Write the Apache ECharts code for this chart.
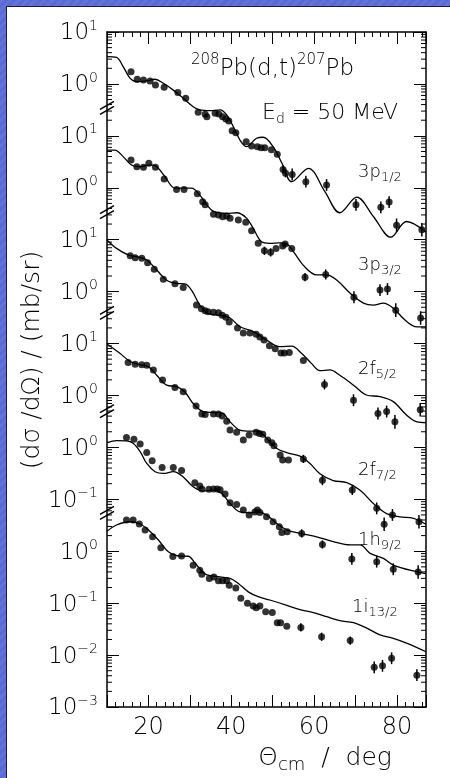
<!DOCTYPE html>
<html>
<head>
<meta charset="utf-8">
<title>208Pb(d,t)207Pb</title>
<script src="https://cdn.jsdelivr.net/npm/echarts@6.0.0/dist/echarts.min.js"></script>
<style>
html, body { margin: 0; padding: 0; }
body {
  width: 450px; height: 778px; overflow: hidden; position: relative;
  background: repeating-linear-gradient(135deg, #6272da 0px, #6272da 3px, #5a6ad4 3px, #5a6ad4 6px);
}
#paper {
  position: absolute; left: 6px; top: 6px; right: 0; bottom: 0; background: #fff;
  border-top: 1px solid #1c1c3c; border-left: 1px solid #1c1c3c;
}
#chart { position: absolute; left: 0; top: 0; width: 450px; height: 778px; }
</style>
</head>
<body>
<div id="paper"></div>
<div id="chart"></div>
<script>
const FONT = 'DejaVu Sans';

// angle axis
const xMin = 10, xMax = 87;
const xLabels = [20, 40, 60, 80];

// each panel is lifted by this many decades so all six sit on one log scale
const panelShift = [9, 7, 5, 3, 2, 0];
const panelNames = [['3p', '1/2'], ['3p', '3/2'], ['2f', '5/2'], ['2f', '7/2'], ['1h', '9/2'], ['1i', '13/2']];
// exponent printed at each decade of the stacked scale, top (10) to bottom (-3)
const yTickExp = [1, 0, 1, 0, 1, 0, 1, 0, 0, -1, 0, -1, -2, -3];
// axis breaks between panels, in stacked decades
const breakAt = [8.54, 6.53, 4.59, 2.70, 0.74];

// DWBA curves: [theta, mb/sr]
const curve3p12 = [[10,3.35],[12.3,3.25],[13.9,2.15],[15.6,1.28],[17.2,1.10],[19.6,1.14],[21.6,1.23],[23.6,1.03],[26.0,0.76],[28.4,0.53],[30.8,0.364],[32.4,0.315],[34.9,0.305],[37.3,0.315],[38.9,0.252],[40.5,0.150],[42.1,0.083],[43.7,0.062],[46.1,0.090],[47.7,0.094],[50.1,0.062],[52.2,0.030],[54.6,0.0131],[58.6,0.0237],[62.6,0.0084],[66.2,0.0033],[70.3,0.0066],[74.3,0.0028],[78.5,0.00112],[82.3,0.00224],[87,0.0014]];
const curve3p32 = [[10,5.33],[11.9,5.33],[13.9,3.98],[15.9,2.75],[18.0,2.55],[20.4,2.75],[22.0,2.55],[24.0,1.63],[26.4,0.98],[28.4,0.98],[30.4,0.98],[32.4,0.72],[34.1,0.47],[35.7,0.35],[38.9,0.32],[41.3,0.33],[43.7,0.26],[45.3,0.165],[47.3,0.091],[49.3,0.085],[51.7,0.087],[53.4,0.083],[55.0,0.059],[57.4,0.032],[60.6,0.021],[63.0,0.021],[65.5,0.0166],[68.7,0.0093],[71.9,0.006],[74.3,0.0055],[76.7,0.006],[79.1,0.0048],[82.0,0.0028],[84.8,0.0021],[87,0.0021]];
const curve2f52 = [[10,9.9],[12.3,6.8],[15.1,5.1],[17.2,4.7],[19.6,4.07],[22.0,2.6],[24.4,1.66],[26.8,1.44],[28.8,1.41],[30.4,1.07],[32.4,0.55],[34.4,0.38],[37.3,0.35],[39.7,0.31],[42.1,0.21],[45.3,0.17],[48.5,0.117],[51.7,0.087],[54.6,0.089],[57.0,0.064],[59.4,0.041],[61.4,0.030],[63.8,0.031],[66.2,0.0245],[69.5,0.0158],[72.6,0.0102],[75.9,0.0095],[79.1,0.0076],[82.3,0.0042],[84.8,0.0031],[87,0.003]];
const curve2f72 = [[10,9.8],[13.1,6.5],[15.6,4.5],[18.0,3.9],[20.0,3.6],[22.0,2.45],[24.4,1.58],[26.8,1.48],[28.8,1.17],[30.8,0.70],[33.2,0.49],[35.7,0.47],[37.7,0.46],[39.7,0.31],[42.1,0.215],[44.5,0.205],[46.5,0.205],[48.5,0.15],[50.9,0.096],[53.4,0.079],[56.6,0.068],[59.0,0.049],[61.4,0.031],[64.6,0.023],[67.9,0.021],[71.1,0.015],[74.3,0.0083],[77.5,0.0053],[80.7,0.0046],[84.0,0.0043],[87,0.0033]];
const curve1h92 = [[10,1.23],[12.3,1.35],[14.7,1.33],[16.3,1.2],[18.0,0.83],[19.6,0.49],[21.6,0.34],[23.6,0.315],[26.0,0.34],[28.4,0.27],[30.8,0.174],[33.2,0.144],[35.7,0.15],[37.7,0.13],[39.7,0.083],[42.1,0.057],[44.5,0.055],[46.5,0.057],[48.5,0.050],[50.9,0.0347],[53.4,0.0257],[56.6,0.022],[60.6,0.019],[64.6,0.0153],[68.7,0.0132],[71.1,0.0132],[73.5,0.0091],[76.7,0.0073],[79.1,0.0054],[84.8,0.0040],[87,0.0037]];
const curve1i132 = [[10,2.42],[12.3,3.2],[15.6,3.7],[18.0,3.35],[20.0,2.57],[22.4,1.65],[24.8,0.98],[27.2,0.81],[29.6,0.80],[31.2,0.6],[32.8,0.42],[34.1,0.35],[37.3,0.32],[39.7,0.30],[41.7,0.24],[44.1,0.165],[46.5,0.133],[49.3,0.115],[53.4,0.091],[56.6,0.075],[59.8,0.066],[63.0,0.055],[66.2,0.046],[69.5,0.042],[72.7,0.033],[75.9,0.0244],[79.1,0.021],[82.3,0.017],[87,0.0116]];

// measured: [theta, mb/sr, relative error (0 = smaller than the dot)]
const data3p12 = [[15.8,1.72,0],[17.3,1.23,0],[18.8,1.19,0],[20.4,1.14,0],[21.7,0.95,0],[23.8,0.86,0],[27.1,0.68,0],[29.0,0.53,0],[32.0,0.284,0],[33.7,0.26,0],[34.1,0.234,0],[36.1,0.272,0],[37.0,0.264,0],[37.9,0.234,0],[38.7,0.211,0],[39.4,0.193,0],[40.2,0.126,0],[41.1,0.115,0],[43.6,0.077,0],[44.9,0.064,0],[46.3,0.062,0],[47.2,0.059,0],[48.1,0.059,0],[49.7,0.054,0],[51.1,0.044,0],[52.5,0.0226,0.2],[53.1,0.019,0.2],[54.7,0.018,0.3],[58.0,0.0131,0.3],[63.0,0.0113,0.3],[70.1,0.0047,0.3],[76.1,0.0042,0.3],[78.1,0.0053,0.3],[79.9,0.0019,0.35],[86.0,0.00155,0.35]];
const data3p32 = [[15.8,3.43,0],[17.2,2.55,0],[18.8,2.48,0],[20.1,2.95,0],[21.7,2.48,0],[23.8,1.48,0],[26.8,0.93,0],[28.6,0.93,0],[31.8,0.77,0],[33.1,0.54,0],[33.7,0.47,0],[35.7,0.31,0],[36.9,0.30,0],[37.9,0.277,0],[38.9,0.285,0],[39.7,0.26,0],[41.7,0.24,0],[43.5,0.216,0],[44.9,0.149,0],[46.5,0.085,0],[48.0,0.061,0.2],[49.5,0.057,0.2],[50.8,0.068,0],[52.4,0.076,0],[53.0,0.083,0],[54.6,0.068,0],[57.8,0.019,0.2],[62.8,0.0214,0.25],[69.6,0.0078,0.3],[75.9,0.0107,0.3],[77.7,0.0112,0.3],[79.7,0.0044,0.35],[85.7,0.0031,0.35]];
const data2f52 = [[15.6,4.9,0],[16.8,4.5,0],[18.4,4.4,0],[19.8,3.6,0],[21.4,2.7,0],[23.6,1.73,0],[26.4,1.41,0],[28.4,1.2,0],[31.6,0.55,0],[32.8,0.47,0],[33.7,0.43,0],[34.4,0.41,0],[35.7,0.40,0],[36.9,0.39,0],[37.8,0.35,0],[38.7,0.32,0],[39.5,0.26,0],[41.5,0.20,0],[42.9,0.16,0],[44.5,0.16,0],[46.0,0.151,0],[46.9,0.134,0],[47.9,0.117,0],[49.2,0.091,0],[50.6,0.079,0],[52.0,0.066,0],[52.8,0.066,0],[54.0,0.067,0],[57.4,0.047,0],[62.5,0.0163,0.25],[69.5,0.0081,0.3],[75.4,0.0045,0.3],[77.5,0.0049,0.3],[79.5,0.0031,0.35],[85.6,0.0053,0.35]];
const data2f72 = [[15.1,4.3,0],[16.8,3.98,0],[18.4,3.9,0],[19.6,3.8,0],[21.2,3.1,0],[23.4,1.98,0],[26.4,1.42,0],[28.4,1.18,0],[31.5,0.63,0],[32.9,0.44,0],[33.7,0.43,0],[35.7,0.44,0],[36.9,0.44,0],[37.8,0.40,0],[38.9,0.32,0],[39.7,0.215,0],[41.3,0.195,0],[42.9,0.138,0],[44.3,0.173,0],[46.0,0.195,0],[46.8,0.186,0],[47.6,0.18,0],[48.8,0.138,0],[49.8,0.123,0],[50.3,0.107,0],[51.8,0.071,0],[52.4,0.057,0],[53.8,0.057,0],[57.4,0.06,0.2],[62.0,0.0234,0.25],[69.2,0.0151,0.25],[75.1,0.0067,0.3],[76.9,0.0033,0.35],[78.9,0.005,0.3],[85.3,0.0037,0.35]];
const data1h92 = [[14.7,1.55,0],[16.5,1.43,0],[18.0,1.16,0],[19.6,0.80,0],[20.9,0.55,0],[23.3,0.41,0],[26.0,0.41,0],[28.0,0.36,0],[31.2,0.208,0],[32.4,0.18,0],[32.9,0.158,0],[34.6,0.157,0],[35.7,0.158,0],[36.6,0.158,0],[37.3,0.152,0],[38.5,0.126,0],[39.7,0.086,0],[41.3,0.079,0],[42.9,0.062,0],[44.3,0.050,0],[45.7,0.057,0],[46.3,0.062,0],[46.9,0.056,0],[48.5,0.046,0],[50.1,0.037,0],[51.6,0.0295,0],[52.2,0.0229,0],[53.5,0.0237,0],[57.0,0.022,0.2],[62.0,0.0135,0.2],[69.1,0.0071,0.3],[75.1,0.0063,0.3],[79.1,0.0045,0.3],[85.1,0.004,0.35]];
const data1i132 = [[14.7,4.0,0],[16.3,4.0,0],[17.8,3.35,0],[19.2,2.57,0],[21.0,1.9,0],[23.0,1.17,0],[25.9,0.79,0],[28.0,0.81,0],[30.8,0.54,0],[32.4,0.43,0],[32.9,0.36,0],[34.7,0.30,0],[35.8,0.32,0],[36.9,0.27,0],[37.9,0.27,0],[38.9,0.27,0],[39.5,0.22,0],[41.1,0.195,0],[42.3,0.124,0],[43.9,0.10,0],[45.3,0.088,0],[46.0,0.082,0],[46.9,0.088,0],[48.3,0.068,0],[49.9,0.066,0],[51.1,0.042,0],[51.9,0.042,0],[53.4,0.036,0],[56.8,0.034,0.2],[61.8,0.0225,0.2],[68.7,0.019,0.2],[74.5,0.0058,0.3],[76.5,0.0062,0.3],[78.7,0.0087,0.3],[84.8,0.0041,0.3]];

const curves = [curve3p12, curve3p32, curve2f52, curve2f72, curve1h92, curve1i132];
const points = [data3p12, data3p32, data2f52, data2f72, data1h92, data1i132];

// value -> stacked decade
const lift = (v, k) => Math.log10(v) + panelShift[k];

const black = '#000';
const txt = (size, extra) => Object.assign({ fontSize: size, fontFamily: FONT, fontWeight: 200, color: black }, extra);

const series = [];
curves.forEach((c, k) => {
  series.push({
    type: 'line', smooth: 0.35, showSymbol: false, silent: true, z: 3,
    lineStyle: { color: black, width: 1.3 },
    data: c.map(p => [p[0], lift(p[1], k)])
  });
});
points.forEach((d, k) => {
  series.push({
    type: 'scatter', symbol: 'circle', symbolSize: 7, silent: true, z: 4,
    itemStyle: { color: black },
    data: d.map(p => [p[0], lift(p[1], k)])
  });
  series.push({
    type: 'custom', silent: true, z: 4,
    data: d.filter(p => p[2] > 0).map(p => {
      const h = Math.log10(1 + p[2]);
      return [p[0], lift(p[1], k) - h, lift(p[1], k) + h];
    }),
    renderItem: (params, api) => {
      const a = api.coord([api.value(0), api.value(1)]);
      const b = api.coord([api.value(0), api.value(2)]);
      return { type: 'line', shape: { x1: a[0], y1: a[1], x2: b[0], y2: b[1] }, style: { stroke: black, lineWidth: 1.5 } };
    }
  });
});

// log minor ticks (2..9 in every decade) on left and right frame
const minorY = [];
for (let d = -3; d < 10; d++) for (let m = 2; m <= 9; m++) minorY.push([xMin, d + Math.log10(m)]);
series.push({
  type: 'custom', silent: true, clip: false, z: 5, data: minorY,
  renderItem: (params, api) => {
    const l = api.coord([xMin, api.value(1)]);
    const r = api.coord([xMax, api.value(1)]);
    return { type: 'group', children: [
      { type: 'line', shape: { x1: l[0], y1: l[1], x2: l[0] + 5, y2: l[1] }, style: { stroke: black, lineWidth: 1 } },
      { type: 'line', shape: { x1: r[0], y1: r[1], x2: r[0] - 5, y2: r[1] }, style: { stroke: black, lineWidth: 1 } }
    ] };
  }
});

// "//" break marks on the left axis
series.push({
  type: 'custom', silent: true, clip: false, z: 6, data: breakAt.map(b => [xMin, b]),
  renderItem: (params, api) => {
    const p = api.coord([xMin, api.value(1)]);
    const seg = dy => ({ type: 'line', shape: { x1: p[0] - 7, y1: p[1] + 4 + dy, x2: p[0] + 7, y2: p[1] - 4 + dy }, style: { stroke: black, lineWidth: 1.4 } });
    return { type: 'group', children: [seg(-2.5), seg(2.5)] };
  }
});

const axisLine = { show: true, onZero: false, lineStyle: { color: black, width: 1.5 } };
const majorTick = { show: true, inside: true, length: 12, lineStyle: { color: black, width: 1 } };
const xAxisCommon = {
  type: 'value', min: xMin, max: xMax, interval: 10,
  axisLine, axisTick: majorTick,
  minorTick: { show: true, splitNumber: 5, length: 5, lineStyle: { color: black, width: 1 } },
  splitLine: { show: false }, minorSplitLine: { show: false }
};
const yAxisCommon = {
  type: 'value', min: -3, max: 10, interval: 1,
  axisLine, axisTick: majorTick, splitLine: { show: false }
};

const graphic = [
  { type: 'text', x: 191, y: 67, style: {
    text: '{s|208}{n|Pb(d,t)}{s|207}{n|Pb}', verticalAlign: 'middle',
    rich: { n: txt(23, { verticalAlign: 'bottom' }), s: txt(15, { padding: [0, 0, 13, 0] }) } } },
  { type: 'text', x: 262, y: 113, style: {
    text: '{n|E}{u|d}{n| = 50 MeV}', verticalAlign: 'middle',
    rich: { n: txt(22, { verticalAlign: 'middle' }), u: txt(14, { verticalAlign: 'middle', padding: [13, 0, 0, 0] }) } } },
  { type: 'text', x: 32, y: 360, rotation: Math.PI / 2, style: {
    text: '(dσ /dΩ) / (mb/sr)', align: 'center', verticalAlign: 'middle', ...txt(25) } },
  { type: 'text', x: 325, y: 758, style: {
    text: '{n|Θ}{u|cm}{n|  /  deg}', align: 'center', verticalAlign: 'middle',
    rich: { n: txt(25, { verticalAlign: 'middle' }), u: txt(18, { verticalAlign: 'middle', padding: [14, 0, 0, 0] }) } } }
];
const labelPos = [[358, 172], [358, 265], [358, 369], [358, 470], [358, 540], [352, 607]];
panelNames.forEach((nm, k) => {
  graphic.push({ type: 'text', x: labelPos[k][0], y: labelPos[k][1], style: {
    text: '{n|' + nm[0] + '}{u|' + nm[1] + '}', verticalAlign: 'middle',
    rich: { n: txt(18, { verticalAlign: 'middle' }), u: txt(13, { verticalAlign: 'middle', padding: [11, 0, 0, 0] }) } } });
});

const chart = echarts.init(document.getElementById('chart'), null, { renderer: 'canvas' });
chart.setOption({
  animation: false,
  backgroundColor: 'transparent',
  grid: { left: 107, top: 32, width: 319, height: 675, containLabel: false },
  xAxis: [
    Object.assign({}, xAxisCommon, { position: 'bottom',
      axisLabel: { show: true, margin: 9, formatter: v => xLabels.includes(v) ? String(v) : '', ...txt(24) } }),
    Object.assign({}, xAxisCommon, { position: 'top', axisLabel: { show: false } })
  ],
  yAxis: [
    Object.assign({}, yAxisCommon, { position: 'left',
      axisLabel: {
        show: true, margin: 9,
        formatter: v => {
          const e = yTickExp[10 - Math.round(v)];
          return '{b|10}{s|' + (e < 0 ? '\u2212' + (-e) : e) + '}';
        },
        rich: { b: txt(23, { verticalAlign: 'bottom' }), s: txt(14, { padding: [0, 0, 12, 0] }) }
      } }),
    Object.assign({}, yAxisCommon, { position: 'right', axisLabel: { show: false } })
  ],
  graphic,
  series
});
</script>
</body>
</html>
